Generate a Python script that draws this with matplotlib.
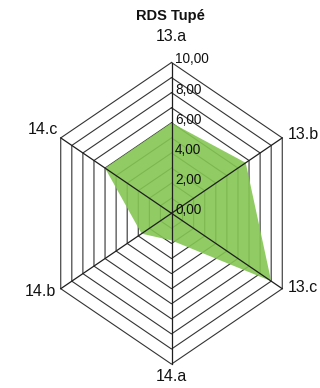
import numpy as np
import matplotlib
matplotlib.use("Agg")
import matplotlib.pyplot as plt

plt.rcParams['font.family'] = ['Liberation Sans', 'DejaVu Sans']

title = "RDS Tupé"
categories = ['13.a', '13.b', '13.c', '14.a', '14.b', '14.c']
values = [6.0, 6.7, 9.0, 1.8, 2.7, 6.0]
ring_levels = [1, 2, 3, 4, 5, 6, 7, 8, 9, 10]
tick_values = [0, 2, 4, 6, 8, 10]
tick_labels = ['0,00', '2,00', '4,00', '6,00', '8,00', '10,00']

W, H, DPI = 320, 388, 100
fig = plt.figure(figsize=(W / DPI, H / DPI), dpi=DPI)
ax = fig.add_axes([0, 0, 1, 1])
ax.set_axis_off()

# map data units to pixel geometry (hexagon slightly narrow horizontally)
cx, cy = 171.5, 388 - 213.3
sx, sy = 12.79, 15.08  # pixels per unit
ax.set_xlim(-cx / sx, (W - cx) / sx)
ax.set_ylim(-cy / sy, (H - cy) / sy)

n = len(categories)
theta = np.arange(n) * 2 * np.pi / n
sin_t, cos_t = np.sin(theta), np.cos(theta)

def poly(r):
    r = np.asarray(r, dtype=float)
    x = r * sin_t
    y = r * cos_t
    return np.append(x, x[0]), np.append(y, y[0])

ring_color = '#333333'
for k in ring_levels:
    xs, ys = poly([k] * n)
    ax.plot(xs, ys, color=ring_color, lw=0.8, zorder=1, solid_joinstyle='miter')

# data polygon
xs, ys = poly(values)
ax.fill(xs, ys, color='#84c652', alpha=0.9, zorder=2, lw=0)

# spokes
rmax = max(ring_levels)
for i in range(n):
    ax.plot([0, rmax * sin_t[i]], [0, rmax * cos_t[i]], color='#1e1e1e', lw=0.9, zorder=3)

# tick labels along the 13.a spoke
for v, lab in zip(tick_values, tick_labels):
    ax.annotate(lab, xy=(0, v), xytext=(2.6, 2.2), textcoords='offset points',
                ha='left', va='center', fontsize=9.8, color='#111111', zorder=4)

# category labels
offsets = [(0, 18.6), (4.3, 2.4), (3.6, 1.2), (0, -9.0), (-3.4, -1.9), (-2.0, 6.1)]
aligns = [('center', 'center'), ('left', 'center'), ('left', 'center'),
          ('center', 'center'), ('right', 'center'), ('right', 'center')]
for i, lab in enumerate(categories):
    ax.annotate(lab, xy=(rmax * sin_t[i], rmax * cos_t[i]), xytext=offsets[i],
                textcoords='offset points', ha=aligns[i][0], va=aligns[i][1],
                fontsize=11.5, color='#111111')

fig.text(0.534, 1 - 16 / H, title, ha='center', va='center',
         fontsize=10.5, fontweight='bold', color='#111111')

fig.savefig('out.png', dpi=DPI, facecolor='white')
